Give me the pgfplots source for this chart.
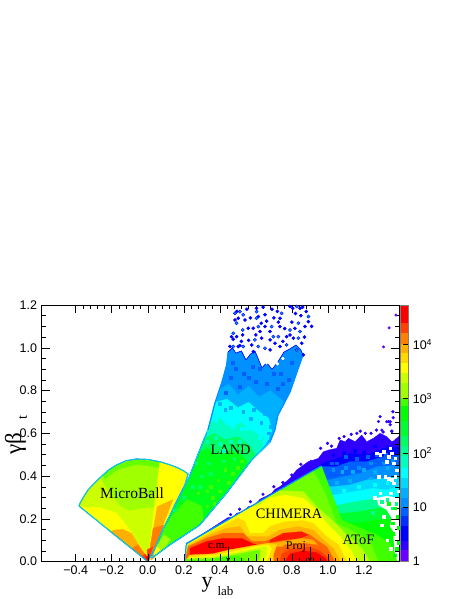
\documentclass[border=0pt]{standalone}
\usepackage{fontspec}
\setmainfont{Liberation Sans}
\newfontfamily\tm{Liberation Serif}
\usepackage{pgfplots}
\pgfplotsset{compat=1.18}
\newcommand\fs[1]{\fontsize{#1}{#1}\selectfont}
\definecolor{k01}{HTML}{6A00FF}\definecolor{k02}{HTML}{3000FF}\definecolor{k03}{HTML}{0000FF}
\definecolor{k04}{HTML}{0030FF}\definecolor{k05}{HTML}{0060FF}\definecolor{k06}{HTML}{0090FF}
\definecolor{k07}{HTML}{00B0FF}\definecolor{k08}{HTML}{00D8FF}\definecolor{k09}{HTML}{00FFFF}
\definecolor{k10}{HTML}{00FFC0}\definecolor{k11}{HTML}{00FF90}\definecolor{k12}{HTML}{00FF60}
\definecolor{k13}{HTML}{00FF30}\definecolor{k14}{HTML}{00FF00}\definecolor{k15}{HTML}{40FF00}
\definecolor{k16}{HTML}{A0FF00}\definecolor{k17}{HTML}{CCFF00}\definecolor{k18}{HTML}{FFFF00}
\definecolor{k19}{HTML}{FFD800}\definecolor{k20}{HTML}{FFB000}\definecolor{k21}{HTML}{FF8000}
\definecolor{k22}{HTML}{FF4000}\definecolor{k23}{HTML}{FF0000}
\newcommand\poly[2]{\addplot[fill=#1,draw=#1,line width=.2pt] coordinates {#2} --cycle;}
\newcommand\spk[3]{\addplot[only marks,mark=square*,mark size=#2,color=#1,mark options={draw=#1,fill=#1}] coordinates {#3};}
\newcommand\blb[3]{\addplot[only marks,mark=*,mark size=#2,color=#1,mark options={draw=#1,fill=#1}] coordinates {#3};}
\newcommand\edge[3]{\addplot[draw=#1,line width=#2,line join=round] coordinates {#3};}
\begin{document}
\begin{tikzpicture}[x=1pt,y=1pt]
\path[use as bounding box] (0,0) rectangle (463,599);
\begin{axis}[
  at={(41.5pt,37.4pt)},anchor=south west,scale only axis,width=357.5pt,height=256.6pt,
  xmin=-0.59,xmax=1.395,ymin=0,ymax=1.2,axis on top,
  xtick={-0.4,-0.2,0,0.2,0.4,0.6,0.8,1.0,1.2},
  xticklabels={−0.4,−0.2,0.0,0.2,0.4,0.6,0.8,1.0,1.2},
  ytick={0,0.2,0.4,0.6,0.8,1.0,1.2},
  yticklabels={0.0,0.2,0.4,0.6,0.8,1.0,1.2},
  minor x tick num=4,minor y tick num=3,
  tick align=inside,major tick length=8pt,minor tick length=4pt,
  tick style={black,line width=.5pt},
  axis line style={line width=.8pt},
  ticklabel style={font=\fs{12.5}},
  xticklabel style={yshift=-1pt},
  yticklabel style={xshift=-1pt},
]
% ---- MicroBall
\poly{k17}{(0,0)(-.382,.26)(-.375,.275)(-.355,.305)(-.332,.335)(-.29,.372)(-.249,.405)(-.215,.43)(-.174,.452)(-.12,.472)(-.063,.48)(0,.478)(.067,.467)(.115,.455)(.16,.441)(.195,.427)(.224,.41)(.206,.358)(.15,.265)(.067,.101)}
\poly{k16}{(-.258,.385)(-.211,.32)(-.146,.257)(-.1,.239)(-.044,.249)(.033,.254)(.067,.465)(0,.475)(-.063,.478)(-.12,.47)(-.174,.45)(-.215,.428)(-.249,.403)}
\poly{k15!60!k16}{(-.249,.403)(-.174,.45)(-.063,.478)(.067,.465)(.062,.44)(-.06,.455)(-.17,.43)(-.24,.385)}
\poly{k18}{(-.382,.26)(-.341,.254)(-.267,.254)(-.174,.226)(-.119,.171)(-.072,.109)(0,.02)(0,0)}
\poly{k18}{(.067,.465)(.115,.455)(.16,.441)(.195,.427)(.224,.41)(.206,.358)(.15,.265)(.067,.101)(0,0)}
\poly{k20}{(-.211,.14)(-.184,.148)(-.137,.151)(-.091,.133)(-.044,.07)(-.004,.023)(0,0)}
\poly{k21}{(-.091,.062)(-.054,.078)(0,.012)(0,0)}
\poly{k22}{(-.035,.024)(-.011,.036)(0,0)}
\poly{k20}{(.052,.257)(.14,.29)(.085,.171)(.048,.07)(.011,.016)(0,0)}
\poly{k21}{(.03,.156)(.089,.171)(.048,.07)(.011,.016)(0,0)}
\poly{k22}{(-.004,.055)(.03,.07)(.007,.016)(0,0)}
\edge{k06}{1.1pt}{(0,0)(-.382,.26)(-.375,.275)(-.355,.305)(-.332,.335)(-.29,.372)(-.249,.405)(-.215,.43)(-.174,.452)(-.12,.472)(-.063,.48)(0,.478)(.067,.467)(.115,.455)(.16,.441)(.195,.427)(.224,.41)(.206,.358)(.15,.265)(.067,.101)(0,0)}
\edge{k10}{.35pt}{(0,0)(-.382,.26)(-.375,.275)(-.355,.305)(-.332,.335)(-.29,.372)(-.249,.405)(-.215,.43)(-.174,.452)(-.12,.472)(-.063,.48)(0,.478)(.067,.467)(.115,.455)(.16,.441)(.195,.427)(.224,.41)(.206,.358)(.15,.265)(.067,.101)(0,0)}
\poly{k23}{(-.012,.022)(.012,.03)(.003,.004)(0,0)}
% ---- LAND
\poly{k06}{(.022,.026)(.083,.148)(.228,.391)(.278,.499)(.334,.616)(.373,.742)(.412,.84)(.438,.92)(.446,.98)(.47,1.0)(.489,.975)(.52,.985)(.545,.943)(.57,.97)(.595,.985)(.615,.945)(.634,.906)(.66,.93)(.69,.90)(.72,.93)(.756,.98)(.79,.995)(.823,1.013)(.85,.99)(.862,.966)(.829,.887)(.79,.793)(.723,.685)(.706,.616)(.679,.559)(.577,.475)(.438,.321)(.289,.171)(.122,.078)(.022,.017)}
\poly{k07}{(.398,.805)(.45,.83)(.50,.78)(.56,.82)(.62,.77)(.68,.80)(.74,.76)(.76,.74)(.723,.685)(.706,.616)(.679,.559)(.577,.475)(.438,.321)(.289,.171)(.122,.078)(.022,.017)(.022,.026)(.083,.148)(.228,.391)(.278,.499)(.334,.616)(.373,.742)}
\poly{k09}{(.373,.745)(.44,.76)(.50,.72)(.56,.745)(.62,.70)(.672,.67)(.69,.61)(.655,.55)(.577,.475)(.438,.321)(.289,.171)(.122,.078)(.022,.017)(.022,.026)(.083,.148)(.228,.391)(.278,.499)(.334,.616)}
\poly{k10}{(.345,.65)(.40,.67)(.46,.63)(.52,.65)(.58,.61)(.645,.58)(.62,.51)(.577,.475)(.438,.321)(.289,.171)(.122,.078)(.022,.017)(.022,.026)(.083,.148)(.228,.391)(.278,.499)(.334,.616)}
\poly{k12}{(.31,.575)(.37,.60)(.43,.57)(.50,.585)(.57,.54)(.60,.495)(.577,.475)(.438,.321)(.289,.171)(.122,.078)(.022,.017)(.022,.026)(.083,.148)(.228,.391)(.278,.499)}
\poly{k13!50!k14}{(.285,.51)(.33,.53)(.39,.50)(.45,.52)(.52,.50)(.56,.46)(.438,.321)(.289,.171)(.122,.078)(.022,.017)(.022,.026)(.083,.148)(.228,.391)}
\poly{k15}{(.08,.14)(.14,.22)(.22,.29)(.30,.26)(.31,.2)(.289,.171)(.122,.078)(.05,.03)}
\poly{k16}{(.04,.06)(.09,.125)(.125,.105)(.10,.07)(.03,.015)}
\poly{k18}{(.025,.03)(.05,.07)(.07,.055)(.025,.015)}
\poly{k20}{(.015,.012)(.03,.035)(.042,.022)(.02,.008)}
\spk{k15}{1.3pt}{(.33,.26)(.36,.30)(.40,.33)(.45,.37)(.47,.41)(.50,.44)(.39,.38)(.43,.43)(.35,.35)(.28,.32)(.25,.26)(.19,.22)(.33,.33)(.37,.27)(.52,.47)}
\spk{k12}{1.3pt}{(.30,.40)(.27,.46)(.34,.46)(.38,.53)(.44,.55)(.51,.53)(.55,.49)(.25,.35)(.20,.30)(.15,.24)(.29,.35)(.35,.41)(.42,.47)(.48,.48)}
\spk{k10}{1.4pt}{(.34,.61)(.38,.58)(.43,.60)(.48,.61)(.53,.58)(.60,.56)(.36,.64)(.42,.52)(.33,.56)(.56,.56)(.63,.54)(.46,.56)(.40,.55)(.51,.56)}
\spk{k09}{1.4pt}{(.38,.66)(.44,.65)(.49,.67)(.55,.62)(.60,.63)(.64,.60)(.47,.63)(.41,.69)(.66,.58)(.52,.62)(.58,.66)(.62,.58)}
\spk{k07}{1.4pt}{(.40,.74)(.46,.72)(.53,.70)(.59,.71)(.65,.69)(.68,.63)(.70,.66)(.57,.67)(.63,.65)(.67,.60)(.49,.75)(.43,.71)}
\spk{k05}{1.5pt}{(.43,.79)(.46,.86)(.51,.82)(.56,.86)(.60,.84)(.66,.83)(.72,.81)(.75,.83)(.78,.85)(.70,.88)(.49,.90)(.62,.90)(.53,.88)(.58,.91)(.74,.88)(.47,.93)(.80,.93)}
\edge{k06}{1.2pt}{(.022,.026)(.083,.148)(.228,.391)(.278,.499)(.334,.616)(.373,.742)(.412,.84)(.438,.92)(.446,.98)}
\edge{k06}{1.2pt}{(.862,.966)(.829,.887)(.79,.793)(.723,.685)(.706,.616)(.679,.559)(.577,.475)(.438,.321)(.289,.171)(.122,.078)(.022,.017)}
\edge{k03}{.6pt}{(.446,.98)(.47,1.0)(.489,.975)(.52,.985)(.545,.943)(.57,.97)(.595,.985)(.615,.945)(.634,.906)(.66,.93)(.69,.90)(.72,.93)(.756,.98)(.79,.995)(.823,1.013)(.85,.99)(.862,.966)}
\edge{k09}{.35pt}{(.022,.026)(.083,.148)(.228,.391)(.278,.499)(.334,.616)}
\edge{k09}{.35pt}{(.679,.559)(.577,.475)(.438,.321)(.289,.171)(.122,.078)(.022,.017)}
\blb{white}{1.5pt}{(.66,.93)(.69,.915)(.72,.925)(.70,.95)(.65,.96)(.75,.95)}
% LAND upper blobs
\blb{k03}{1.6pt}{(.484,1.161)(.495,1.17)(.512,1.169)(.530,1.154)(.502,1.138)(.493,1.115)(.484,1.13)(.540,1.130)(.475,1.068)(.465,1.052)(.475,1.04)(.493,1.052)(.527,1.083)(.527,1.060)(.558,1.091)(.604,1.169)(.604,1.185)(.614,1.146)(.604,1.138)(.651,1.154)(.734,1.138)(.743,1.161)(.725,1.12)(.790,1.193)(.805,1.185)(.827,1.193)(.845,1.185)(.86,1.19)(.892,1.146)(.892,1.122)(.873,1.099)(.836,1.115)(.817,1.091)(.845,1.076)(.790,1.083)(.734,1.099)(.688,1.099)(.679,1.076)(.697,1.052)(.651,1.099)(.614,1.099)(.623,1.076)(.586,1.091)(.679,1.037)(.725,1.052)(.706,1.021)(.632,1.045)(.595,1.037)(.577,1.013)(.530,1.006)(.512,1.01)(.475,1.006)(.456,1.006)(.502,1.006)(.651,.998)(.679,.990)(.734,1.006)(.771,1.013)(.808,1.045)(.836,1.045)(.855,1.021)(.771,1.052)(.790,1.060)(.614,1.006)(.586,.982)(.827,.990)(.864,.967)(.66,1.125)(.70,1.14)(.60,1.06)(.56,1.035)(.76,1.09)(.80,1.12)(.85,1.15)(.88,1.17)(.91,1.10)(.87,1.05)(.75,1.03)(.72,1.17)(.64,1.19)(.55,1.18)(.52,1.03)(.82,1.16)(.69,1.18)(.57,1.14)(.63,1.115)}
\blb{k06}{.8pt}{(.484,1.161)(.512,1.169)(.530,1.154)(.493,1.115)(.475,1.068)(.527,1.083)(.604,1.169)(.604,1.138)(.743,1.161)(.827,1.193)(.892,1.146)(.836,1.115)(.845,1.076)(.790,1.083)(.688,1.099)(.697,1.052)(.614,1.099)(.725,1.052)(.595,1.037)(.530,1.006)(.475,1.006)(.651,.998)(.771,1.013)(.836,1.045)(.614,1.006)(.827,.990)}
% ---- noisy blue region above CHIMERA and ATOF
\poly{k02}{(.215,.081)(.447,.207)(.475,.207)(.493,.226)(.53,.234)(.558,.257)(.595,.265)(.623,.292)(.66,.307)(.688,.32)(.706,.338)(.734,.351)(.79,.39)(.827,.429)(.892,.468)(.92,.475)(.947,.483)(.975,.514)(1.003,.522)(1.049,.53)(1.068,.569)(1.096,.561)(1.114,.577)(1.151,.561)(1.188,.592)(1.216,.561)(1.253,.577)(1.29,.6)(1.327,.585)(1.355,.561)(1.374,.569)(1.392,.585)(1.42,.585)(1.42,0)(.206,0)}
\blb{k02}{1.4pt}{(.907,.468)(.998,.553)(1.063,.576)(1.161,.6)(1.208,.6)(1.281,.655)(1.337,.655)(1.346,.64)(1.3,.615)(1.355,.608)(1.361,.701)(1.346,.654)(1.29,.678)(1.327,.654)(1.363,.673)(1.307,.606)(1.379,.569)(1.355,.611)(.96,.53)(1.02,.54)(1.09,.585)(1.13,.595)(1.18,.61)(1.24,.60)(1.27,.615)(.85,.455)(.80,.405)(.75,.37)(.70,.35)(.64,.315)(.57,.28)(.51,.245)(.46,.22)}
\blb{k01}{1.3pt}{(1.378,1.153)(1.34,1.093)(1.309,1.004)}
\poly{k03}{(.92,.432)(.975,.46)(1.049,.483)(1.124,.507)(1.216,.499)(1.309,.53)(1.42,.538)(1.42,0)(.92,0)}
\poly{k05}{(.95,.444)(1.049,.444)(1.124,.468)(1.216,.468)(1.309,.491)(1.42,.499)(1.42,0)(.95,0)}
\poly{k06}{(.95,.382)(1.003,.382)(1.086,.398)(1.179,.413)(1.272,.444)(1.42,.452)(1.42,0)(.95,0)}
\poly{k08}{(.95,.351)(1.031,.351)(1.124,.359)(1.216,.382)(1.309,.39)(1.42,.405)(1.42,0)(.95,0)}
\poly{k09}{(.95,.312)(1.049,.312)(1.142,.327)(1.253,.343)(1.327,.335)(1.42,.359)(1.42,0)(.95,0)}
\poly{k11}{(.95,.265)(1.059,.265)(1.161,.281)(1.272,.296)(1.42,.304)(1.42,0)(.95,0)}
\poly{k13}{(.95,.226)(1.077,.226)(1.179,.234)(1.272,.249)(1.42,.257)(1.42,0)(.95,0)}
\poly{k14}{(.95,.187)(1.086,.187)(1.161,.179)(1.272,.195)(1.42,.203)(1.42,0)(.95,0)}
\spk{k03}{1.4pt}{(1.03,.50)(1.09,.51)(1.15,.52)(1.20,.51)(1.26,.54)(1.33,.54)}
\spk{k05}{1.4pt}{(1.05,.46)(1.10,.49)(1.16,.48)(1.22,.49)(1.27,.50)(1.02,.46)(1.32,.50)}
\spk{k06}{1.4pt}{(1.03,.43)(1.10,.44)(1.17,.44)(1.24,.46)(1.31,.46)(1.36,.47)}
\spk{k07}{1.4pt}{(1.08,.42)(1.14,.42)(1.20,.43)(1.26,.42)(1.33,.44)(1.12,.38)(1.24,.39)(1.05,.37)}
\spk{k09}{1.4pt}{(1.09,.33)(1.17,.35)(1.26,.36)(1.33,.37)(1.12,.30)(1.22,.31)(1.36,.33)}
\spk{k11}{1.3pt}{(1.12,.25)(1.2,.27)(1.3,.28)(1.36,.25)(1.25,.23)}
\edge{k06}{3pt}{(.215,.08)(.966,.444)}
% ---- CHIMERA fan
\poly{k15}{(.215,.078)(.966,.444)(1.077,.195)(1.161,.164)(1.253,.133)(1.346,.086)(1.383,0)(.206,0)}
\poly{k15!50!k16}{(.219,.078)(.92,.421)(.947,.382)(.994,.304)(1.049,.179)(1.161,.133)(1.235,.094)(1.281,0)(.206,0)}
\poly{k16!30!k17}{(.22,.08)(.734,.332)(.864,.327)(.938,.257)(1.012,.203)(1.105,.125)(1.188,.062)(1.235,0)(.206,0)}
\poly{k18}{(.22,.08)(.447,.19)(.53,.232)(.577,.254)(.623,.265)(.669,.296)(.762,.312)(.864,.296)(.938,.242)(.994,.179)(1.068,.117)(1.133,.047)(1.161,0)(.206,0)}
\poly{k19}{(.224,.08)(.345,.136)(.428,.171)(.502,.203)(.54,.187)(.567,.133)(.641,.133)(.679,.164)(.762,.187)(.864,.192)(.92,.179)(.994,.117)(1.059,.078)(1.105,0)(.206,0)}
\poly{k20}{(.224,.075)(.345,.125)(.438,.156)(.512,.164)(.549,.117)(.669,.117)(.734,.148)(.836,.164)(.92,.148)(.975,.101)(1.031,.062)(1.068,0)(.206,0)}
\poly{k21!60!k22}{(.224,.07)(.326,.109)(.419,.133)(.53,.133)(.577,.094)(.651,.094)(.734,.12)(.836,.14)(.901,.125)(.938,.101)(.994,.07)(1.04,0)(.206,0)}
\poly{k23}{(.234,.062)(.326,.094)(.419,.109)(.521,.109)(.586,.083)(.623,.078)(.614,.07)(.456,.058)(.363,.039)(.234,.031)}
\poly{k23!80!k21}{(.679,.101)(.753,.133)(.855,.14)(.892,.125)(.845,.109)(.753,.101)(.679,.09)}
\poly{k20}{(.679,.086)(.753,.094)(.855,.109)(.92,.101)(.95,.07)(.85,.07)(.72,.07)}
\poly{k21!60!k22}{(.716,0)(.725,.047)(.762,.078)(.864,.086)(.938,.078)(1.003,.039)(1.04,0)}
\poly{k22}{(.734,0)(.743,.036)(.79,.058)(.901,.067)(.957,.051)(1.003,.016)(1.016,0)}
\poly{k23}{(.762,0)(.79,.036)(.864,.051)(.938,.042)(.985,.016)(.998,0)}
% lower left wedge
\poly{k19}{(.234,.031)(.363,.036)(.456,.055)(.604,.078)(.669,.086)(.716,.078)(.697,.031)(.697,0)(.206,0)}
\poly{k18}{(.234,.02)(.382,.03)(.475,.047)(.595,.07)(.669,.078)(.688,.062)(.675,.031)(.66,0)(.206,0)}
\poly{k17}{(.234,.016)(.363,.023)(.475,.039)(.586,.058)(.66,.07)(.66,.039)(.641,0)(.206,0)}
\poly{k15!50!k16}{(.215,.012)(.363,.016)(.475,.031)(.567,.047)(.623,.055)(.623,.023)(.608,0)(.206,0)}
\poly{k15}{(.206,.005)(.35,.008)(.419,.02)(.493,.026)(.53,.016)(.549,0)}
\edge{k06}{1pt}{(.207,0)(.212,.075)(.219,.08)}
\edge{k09}{.4pt}{(.209,0)(.214,.072)(.22,.077)}
% ---- white holes at the right side
\poly{white}{(1.272,.296)(1.327,.307)(1.392,.296)(1.42,.296)(1.42,.117)(1.383,.117)(1.346,.164)(1.355,.203)(1.327,.242)(1.281,.265)}
\poly{white}{(1.365,.12)(1.42,.12)(1.42,.005)(1.385,.005)(1.37,.05)}
\spk{white}{1.3pt}{(1.272,.507)(1.29,.499)(1.309,.514)(1.337,.491)(1.355,.507)(1.374,.483)(1.346,.53)(1.327,.467)(1.365,.46)(1.318,.397)(1.337,.389)(1.355,.382)(1.374,.397)(1.365,.366)(1.281,.397)(1.383,.428)(1.26,.30)(1.29,.32)(1.35,.32)(1.39,.33)(1.30,.17)(1.33,.10)(1.35,.06)(1.31,.21)}
\spk{k14}{1.4pt}{(1.34,.27)(1.37,.25)(1.385,.21)(1.36,.13)(1.39,.09)(1.38,.06)(1.37,.03)(1.39,.16)(1.36,.18)}
\spk{k11}{1.2pt}{(1.33,.29)(1.38,.27)}
\addplot[-stealth,black,line width=.8pt] coordinates {(.447,.07)(.447,0)};
\addplot[-stealth,black,line width=.8pt] coordinates {(.901,.07)(.901,0)};
\node[font=\tm\fs{15.5}] at (axis cs:-.087,.32) {MicroBall};
\node[font=\tm\fs{14.4}] at (axis cs:.46,.522) {LAND};
\node[font=\tm\fs{14.4}] at (axis cs:.784,.223) {CHIMERA};
\node[font=\tm\fs{14.4}] at (axis cs:1.17,.101) {AToF};
\node[font=\tm\fs{11}] at (axis cs:.388,.074) {c.m.};
\node[font=\tm\fs{12}] at (axis cs:.823,.07) {Proj};
\end{axis}
\begin{axis}[
  at={(400.7pt,37.4pt)},anchor=south west,scale only axis,width=7.6pt,height=256.6pt,
  xmin=0,xmax=1,ymin=1,ymax=53100,ymode=log,xtick=\empty,axis on top,
  ytick={1,10,100,1000,10000},
  yticklabels={1,10,10\textsuperscript{2},10\textsuperscript{3},10\textsuperscript{4}},
  ytick pos=right,yticklabel pos=right,tick align=inside,
  major tick length=5pt,minor tick length=4pt,
  tick style={black,line width=.5pt},
  axis line style={gray,line width=.6pt},
  ticklabel style={font=\fs{12.5}},
  yticklabel style={xshift=1pt},
  log basis y=10,
]
\poly{k01}{(0,1)(1,1)(1,1.71)(0,1.71)}
\poly{k02}{(0,1.71)(1,1.71)(1,2.5)(0,2.5)}
\poly{k03}{(0,2.5)(1,2.5)(1,4.72)(0,4.72)}
\poly{k04}{(0,4.72)(1,4.72)(1,7.2)(0,7.2)}
\poly{k05}{(0,7.2)(1,7.2)(1,10)(0,10)}
\poly{k06}{(0,10)(1,10)(1,15.5)(0,15.5)}
\poly{k07}{(0,15.5)(1,15.5)(1,23.7)(0,23.7)}
\poly{k08}{(0,23.7)(1,23.7)(1,36)(0,36)}
\poly{k09}{(0,36)(1,36)(1,55)(0,55)}
\poly{k10}{(0,55)(1,55)(1,92)(0,92)}
\poly{k11}{(0,92)(1,92)(1,140)(0,140)}
\poly{k12}{(0,140)(1,140)(1,214)(0,214)}
\poly{k13}{(0,214)(1,214)(1,405)(0,405)}
\poly{k14}{(0,405)(1,405)(1,765)(0,765)}
\poly{k15}{(0,765)(1,765)(1,1075)(0,1075)}
\poly{k16}{(0,1075)(1,1075)(1,2030)(0,2030)}
\poly{k17}{(0,2030)(1,2030)(1,3100)(0,3100)}
\poly{k18}{(0,3100)(1,3100)(1,4740)(0,4740)}
\poly{k19}{(0,4740)(1,4740)(1,7240)(0,7240)}
\poly{k20}{(0,7240)(1,7240)(1,10600)(0,10600)}
\poly{k21}{(0,10600)(1,10600)(1,16900)(0,16900)}
\poly{k22}{(0,16900)(1,16900)(1,25900)(0,25900)}
\poly{k23}{(0,25900)(1,25900)(1,53100)(0,53100)}
\end{axis}
% axis titles
\node[font=\tm\fs{22},anchor=base] at (207,12) {y};
\node[font=\tm\fs{13},anchor=base west] at (214,4) {lab};
\node[font=\tm\fs{23},rotate=90,anchor=base] at (21,155) {γβ};
\node[font=\tm\fs{14},rotate=90,anchor=base] at (27,181) {t};
\end{tikzpicture}
\end{document}
